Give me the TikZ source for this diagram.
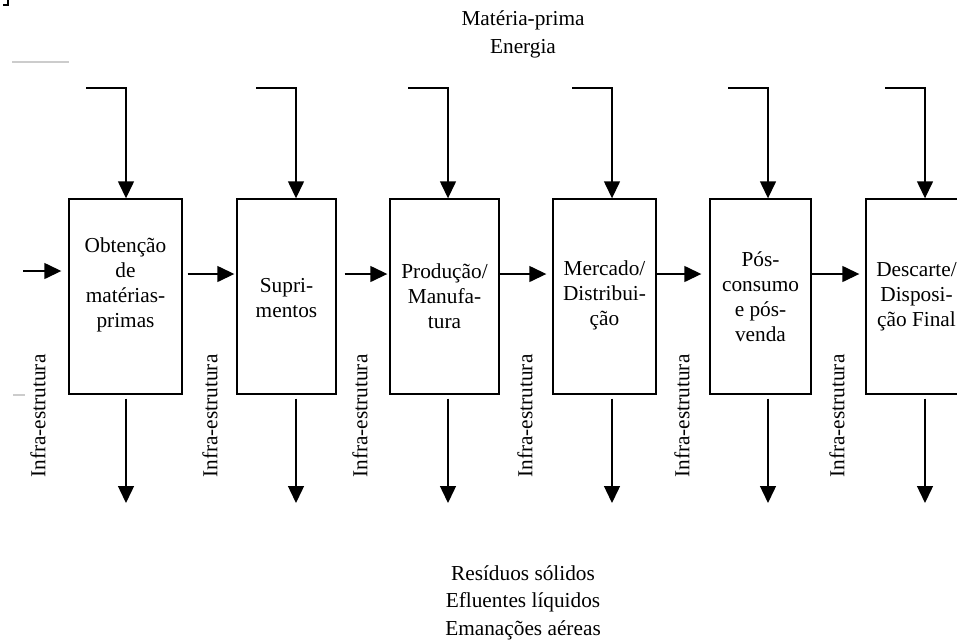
\documentclass[tikz,border=0pt]{standalone}
\usepackage{fontspec}
\setmainfont{Liberation Serif}
\usetikzlibrary{arrows.meta}
\begin{document}
\begin{tikzpicture}[x=1pt,y=-1pt,
  box/.style={draw,line width=1.4pt,minimum height=195pt,inner sep=0pt},
  lbl/.style={align=center,font=\fontsize{21.3}{25}\selectfont,inner sep=0pt},
  infra/.style={rotate=90,font=\fontsize{21.3}{25}\selectfont,inner sep=0pt},
  arr/.style={line width=1.4pt,-{Triangle[length=17pt,width=16pt]}},
  stray/.style={line width=2pt,draw=black!20}]
\useasboundingbox (0,0) rectangle (957,643);
\clip (0,0) rectangle (957,643);
% boxes
\node[box,minimum width=113pt] (b1) at (125.5,296.5) {};
\node[box,minimum width=99pt]  (b2) at (286.5,296.5) {};
\node[box,minimum width=109pt] (b3) at (444.5,296.5) {};
\node[box,minimum width=103pt] (b4) at (604.5,296.5) {};
\node[box,minimum width=101pt] (b5) at (760.5,296.5) {};
\node[box,minimum width=101pt] (b6) at (916.5,296.5) {};
% box texts
\node[lbl] (l1) at (125.5,284.5) {Obtenção\\de\\matérias-\\primas};
\node[lbl] (l2) at (286.5,298) {Supri-\\mentos};
\node[lbl] (l3) at (444.5,296) {Produção/\\Manufa-\\tura};
\node[lbl] (l4) at (604.5,295.5) {Mercado/\\Distribui-\\ção};
\node[lbl] (l5) at (760.5,296.5) {Pós-\\consumo\\e pós-\\venda};
\node[lbl] (l6) at (916.5,297) {Descarte/\\Disposi-\\ção Final};
% top and bottom texts
\node[lbl,font=\fontsize{21.3}{28}\selectfont] (top) at (523,34) {Matéria-prima\\Energia};
\node[lbl,font=\fontsize{21.3}{27.5}\selectfont] (bot) at (523,602.5) {Resíduos sólidos\\Efluentes líquidos\\Emanações aéreas};
% infra labels
\foreach \i/\x in {1/38,2/210,3/360,4/525,5/682,6/837}
  \node[infra] (inf\i) at (\x,416) {Infra-estrutura};
% top inputs and bottom outputs
\foreach \b/\x in {b1/126,b2/296,b3/448,b4/612,b5/768,b6/925}{
  \coordinate (s\b) at (\x-40,88);
  \coordinate (k\b) at (\x,88);
  \coordinate (o\b) at (\x,503);
  \draw[arr] (s\b) -- (k\b) -- (k\b |- \b.north);
  \draw[arr,shorten <=4pt] (o\b |- \b.south) -- (o\b);
}
% horizontal flow
\coordinate (in) at (23,271);
\coordinate (hy) at (0,274);
\draw[arr] (in) -- ([xshift=-7pt]b1.west |- in);
\draw[arr,shorten <=5pt,shorten >=2pt] (b1.east |- hy) -- (b2.west |- hy);
\draw[arr,shorten <=8pt,shorten >=2pt] (b2.east |- hy) -- (b3.west |- hy);
\draw[arr,shorten >=6pt] (b3.east |- hy) -- (b4.west |- hy);
\draw[arr,shorten >=8pt] (b4.east |- hy) -- (b5.west |- hy);
\draw[arr,shorten >=6pt] (b5.east |- hy) -- (b6.west |- hy);
% stray marks
\draw[stray] (12,62) -- (69,62);
\draw[stray] (13,395) -- (25,395);
\draw[line width=1.5pt] (3,5) -- (8,5) -- (8,0);
\end{tikzpicture}
\end{document}
